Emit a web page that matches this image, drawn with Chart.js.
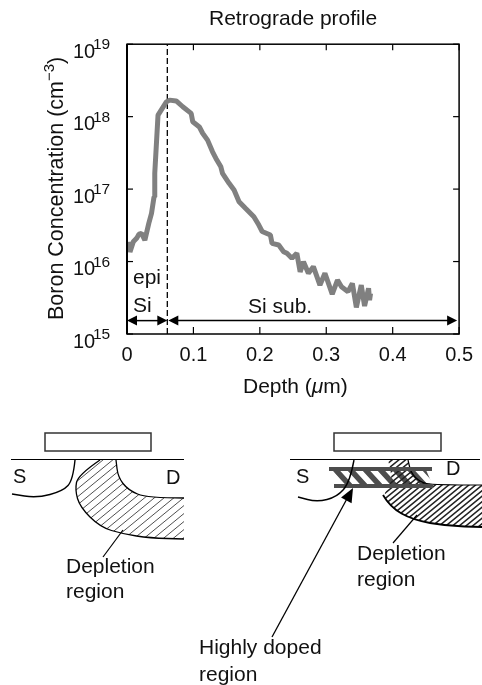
<!DOCTYPE html>
<html>
<head>
<meta charset="utf-8">
<title>Retrograde profile</title>
<script src="https://cdn.jsdelivr.net/npm/chart.js@4/dist/chart.umd.min.js"></script>
<style>
  html, body { margin: 0; padding: 0; background: #fff; }
  canvas { display: block; }
</style>
</head>
<body>
<canvas id="profileChart" width="482" height="685"></canvas>
<script>
// Values
const depthUm = [0.0019, 0.0045, 0.0094, 0.0145, 0.018, 0.0219, 0.0269, 0.0328, 0.0369, 0.0407, 0.0418, 0.0467, 0.0593,
  0.0642, 0.0741, 0.084, 0.0966, 0.099, 0.109, 0.1139, 0.1213, 0.1288, 0.1339, 0.1413, 0.1438, 0.1537, 0.1612, 0.1687,
  0.1787, 0.191, 0.1985, 0.2035, 0.2159, 0.2184, 0.2284, 0.2358, 0.2408, 0.2483, 0.2557, 0.2607, 0.2657, 0.2731, 0.2806,
  0.2905, 0.298, 0.309, 0.3169, 0.3229, 0.3328, 0.3393, 0.3453, 0.3527, 0.3577, 0.3637, 0.3652, 0.3667];
const boronConc = [1.87e16, 1.36e16, 1.87e16, 2.09e16, 2.39e16, 2.45e16, 1.98e16, 3.37e16, 4.62e16, 7.8e16, 1.65e17, 1.05e18, 1.6e18,
  1.69e18, 1.65e18, 1.37e18, 1.11e18, 8.5e17, 7.2e17, 5.9e17, 4.74e17, 3.27e17, 2.65e17, 2.03e17, 1.65e17, 1.2e17, 9.7e16, 6.7e16,
  5.4e16, 4.15e16, 3.19e16, 2.6e16, 2.32e16, 1.78e16, 1.69e16, 1.37e16, 1.3e16, 1.11e16, 1.3e16, 7.2e15, 9.95e15, 6.9e15, 8.5e15,
  4.74e15, 6.9e15, 3.56e15, 5.56e15, 4.5e15, 3.84e15, 5e15, 2.33e15, 4.74e15, 2.43e15, 4.27e15, 2.94e15, 3.64e15];
const xTickValues = [0, 0.1, 0.2, 0.3, 0.4, 0.5];
const xTickLabels = ["0", "0.1", "0.2", "0.3", "0.4", "0.5"];
const yExponents = [15, 16, 17, 18, 19];
const epiEdge = 0.0607; // dashed line between epi and substrate
const spanLevel = 1.53e15; // height of the double arrows

const FONT = '"Liberation Sans", Arial, sans-serif';
const INK = "#111";

function setFont(ctx, size, style) {
  ctx.font = `${style || ""} ${size}px ${FONT}`;
}

function label(ctx, text, x, y, size, align) {
  setFont(ctx, size);
  ctx.fillStyle = INK;
  ctx.textAlign = align || "left";
  ctx.textBaseline = "middle";
  ctx.fillText(text, x, y);
}

function arrowHead(ctx, tipX, tipY, angle, len, halfWidth) {
  ctx.save();
  ctx.translate(tipX, tipY);
  ctx.rotate(angle);
  ctx.beginPath();
  ctx.moveTo(0, 0);
  ctx.lineTo(-len, -halfWidth);
  ctx.lineTo(-len, halfWidth);
  ctx.closePath();
  ctx.fillStyle = "#000";
  ctx.fill();
  ctx.restore();
}

function spanArrow(ctx, x1, x2, y) {
  ctx.strokeStyle = "#000";
  ctx.lineWidth = 1.5;
  ctx.beginPath();
  ctx.moveTo(x1 + 5, y);
  ctx.lineTo(x2 - 5, y);
  ctx.stroke();
  arrowHead(ctx, x1, y, Math.PI, 10, 5);
  arrowHead(ctx, x2, y, 0, 10, 5);
}

// Smooth path through a list of [x, y] pixel pairs
function tracePath(ctx, pts, move) {
  if (move) ctx.moveTo(pts[0][0], pts[0][1]);
  else ctx.lineTo(pts[0][0], pts[0][1]);
  for (let i = 1; i < pts.length - 1; i++) {
    const mx = (pts[i][0] + pts[i + 1][0]) / 2;
    const my = (pts[i][1] + pts[i + 1][1]) / 2;
    ctx.quadraticCurveTo(pts[i][0], pts[i][1], mx, my);
  }
  const last = pts[pts.length - 1];
  ctx.lineTo(last[0], last[1]);
}

function strokeCurve(ctx, pts, width, color) {
  ctx.strokeStyle = color || "#000";
  ctx.lineWidth = width;
  ctx.beginPath();
  tracePath(ctx, pts, true);
  ctx.stroke();
}

function hatch(ctx, x0, x1, y0, y1, gap, width, color, slope) {
  ctx.strokeStyle = color;
  ctx.lineWidth = width;
  ctx.beginPath();
  const span = (x1 - x0) * Math.abs(slope);
  for (let c = y0; c < y1 + span; c += gap) {
    ctx.moveTo(x0, c);
    ctx.lineTo(x1, c - span);
  }
  ctx.stroke();
}

function line(ctx, x1, y1, x2, y2, width, color) {
  ctx.strokeStyle = color || "#000";
  ctx.lineWidth = width;
  ctx.beginPath();
  ctx.moveTo(x1, y1);
  ctx.lineTo(x2, y2);
  ctx.stroke();
}

function gateBox(ctx, x, y, w, h, color) {
  ctx.strokeStyle = color;
  ctx.lineWidth = 1.5;
  ctx.strokeRect(x, y, w, h);
}

function drawLeftDevice(ctx) {
  gateBox(ctx, 45, 433, 106, 18, "#333");
  line(ctx, 11, 459.5, 184, 459.5, 1.2);
  strokeCurve(ctx, [[75, 460], [73, 480], [63, 491], [37, 498], [12, 494]], 1.4);

  const lower = [[100, 460], [78, 475], [75, 490], [80, 507], [100, 527], [123, 534], [150, 538], [184, 539]];
  const upper = [[184, 498], [147, 498], [128, 490], [118, 477], [116, 460]];
  ctx.save();
  ctx.beginPath();
  tracePath(ctx, lower, true);
  tracePath(ctx, upper, false);
  ctx.closePath();
  ctx.clip();
  hatch(ctx, 70, 186, 455, 545, 8, 0.8, "#222", 0.82);
  ctx.restore();
  strokeCurve(ctx, lower, 1.3);
  strokeCurve(ctx, upper, 1.3);
  line(ctx, 123, 530, 103, 557, 1.2);

  label(ctx, "S", 13, 477, 20);
  label(ctx, "D", 166, 478, 20);
  label(ctx, "Depletion", 66, 567, 21);
  label(ctx, "region", 66, 592, 21);
}

function drawRightDevice(ctx) {
  gateBox(ctx, 334, 433, 107, 18, "#333");
  line(ctx, 290, 459.5, 480, 459.5, 1.2);

  // highly doped stripes between the two bars
  ctx.save();
  ctx.beginPath();
  ctx.moveTo(332, 470);
  ctx.lineTo(426, 470);
  ctx.lineTo(433, 486);
  ctx.lineTo(345, 486);
  ctx.closePath();
  ctx.clip();
  ctx.strokeStyle = "#4d4d4d";
  ctx.lineWidth = 5.5;
  ctx.beginPath();
  for (let x = 332; x < 440; x += 15) {
    ctx.moveTo(x, 466);
    ctx.lineTo(x + 22, 490);
  }
  ctx.stroke();
  ctx.restore();

  const lower = [[388, 460], [392, 475], [390, 485], [383, 495], [390, 507], [413, 520], [447, 526], [482, 527]];
  const upper = [[482, 485], [433, 485], [420, 482], [411, 473], [408, 460]];
  ctx.save();
  ctx.beginPath();
  tracePath(ctx, lower, true);
  tracePath(ctx, upper, false);
  ctx.closePath();
  ctx.clip();
  hatch(ctx, 378, 484, 455, 532, 5.5, 1.5, "#222", 0.82);
  ctx.restore();
  strokeCurve(ctx, lower.slice(3), 1.8);
  strokeCurve(ctx, upper, 1.2);

  line(ctx, 329, 469, 432, 469, 4, "#4d4d4d");
  line(ctx, 334, 486, 433, 486, 4, "#4d4d4d");
  strokeCurve(ctx, [[354, 460], [350, 482], [337, 497], [317, 502], [298, 497]], 1.4);

  line(ctx, 393, 543, 417, 515, 1.2);
  line(ctx, 272, 637, 349, 495, 1.3);
  arrowHead(ctx, 353, 488, Math.atan2(488 - 637, 353 - 272), 14, 6);

  label(ctx, "S", 296, 477, 20);
  label(ctx, "D", 446, 469, 20);
  label(ctx, "Depletion", 357, 554, 21);
  label(ctx, "region", 357, 580, 21);
  label(ctx, "Highly doped", 199, 648, 21);
  label(ctx, "region", 199, 675, 21);
}

// Frame, inward ticks, the text a plain tick callback cannot do, and the device sketches
const overlayPlugin = {
  id: "overlay",
  afterDraw(chart) {
    const { ctx, chartArea: area, scales } = chart;
    const { left, right, top, bottom } = area;
    ctx.save();

    ctx.strokeStyle = "#000";
    ctx.lineWidth = 1.5;
    ctx.strokeRect(left, top, right - left, bottom - top);
    line(ctx, left, top, left, bottom, 2);

    xTickValues.forEach((v) => {
      const px = scales.x.getPixelForValue(v);
      line(ctx, px, bottom, px, bottom - 7, 1.2);
      line(ctx, px, top, px, top + 6, 1.2);
    });

    yExponents.forEach((e) => {
      const py = scales.y.getPixelForValue(Math.pow(10, e));
      line(ctx, left, py, left + 6, py, 1.2);
      line(ctx, right, py, right - 6, py, 1.2);
      label(ctx, "10", 73, py + 8, 20);
      label(ctx, String(e), 93, py + 1, 15.5);
    });

    // y axis title, rotated, with the superscript on the unit
    ctx.save();
    ctx.translate(57, 320);
    ctx.rotate(-Math.PI / 2);
    label(ctx, "Boron Concentration (cm", 0, 0, 21.5);
    let run = ctx.measureText("Boron Concentration (cm").width;
    label(ctx, "\u22123", run, -7, 15);
    run += ctx.measureText("\u22123").width;
    label(ctx, ")", run, 0, 21.5);
    ctx.restore();

    // x axis title with italic mu
    let tx = 243;
    label(ctx, "Depth (", tx, 387, 21);
    tx += ctx.measureText("Depth (").width;
    setFont(ctx, 21, "italic");
    ctx.textAlign = "left";
    ctx.fillText("\u03bc", tx, 387);
    tx += ctx.measureText("\u03bc").width;
    label(ctx, "m)", tx, 387, 21);

    // epi / substrate annotations
    const arrowY = scales.y.getPixelForValue(spanLevel);
    const edgePx = scales.x.getPixelForValue(epiEdge);
    spanArrow(ctx, scales.x.getPixelForValue(0), edgePx, arrowY);
    spanArrow(ctx, edgePx + 1, scales.x.getPixelForValue(0.497), arrowY);
    label(ctx, "epi", 133, 278, 21);
    label(ctx, "Si", 133, 306, 21);
    label(ctx, "Si sub.", 248, 307, 21);

    drawLeftDevice(ctx);
    drawRightDevice(ctx);
    ctx.restore();
  },
};

new Chart(document.getElementById("profileChart"), {
  type: "line",
  data: {
    labels: depthUm,
    datasets: [
      {
        label: "Boron concentration",
        data: depthUm.map((d, i) => ({ x: d, y: boronConc[i] })),
        borderColor: "#808080",
        borderWidth: 5,
        pointRadius: 0,
        tension: 0,
        borderJoinStyle: "bevel",
      },
      {
        label: "epi edge",
        data: [{ x: epiEdge, y: 1e15 }, { x: epiEdge, y: 1e19 }],
        borderColor: "#000",
        borderWidth: 1.3,
        borderDash: [6, 3],
        pointRadius: 0,
      },
    ],
  },
  plugins: [overlayPlugin],
  options: {
    responsive: false,
    animation: false,
    layout: { padding: { left: 0, right: 20, top: 0, bottom: 0 } },
    plugins: {
      legend: { display: false },
      tooltip: { enabled: false },
      title: {
        display: true,
        fullSize: false,
        text: "Retrograde profile",
        color: INK,
        font: { family: FONT, size: 21, weight: "normal" },
        padding: { top: 7, bottom: 12 },
      },
    },
    scales: {
      x: {
        type: "linear",
        min: 0,
        max: 0.5,
        afterBuildTicks(axis) {
          axis.ticks = xTickValues.map((v) => ({ value: v }));
        },
        afterFit(axis) {
          axis.height = 351;
        },
        grid: { display: false, drawTicks: false },
        border: { display: false },
        ticks: {
          color: INK,
          font: { family: FONT, size: 20 },
          padding: 9,
          maxRotation: 0,
          callback: (v) => xTickLabels[xTickValues.indexOf(v)],
        },
      },
      y: {
        type: "logarithmic",
        min: 1e15,
        max: 1e19,
        afterFit(axis) {
          axis.width = 127;
        },
        grid: { display: false, drawTicks: false },
        border: { display: false },
        ticks: { display: false },
      },
    },
  },
});
</script>
</body>
</html>
